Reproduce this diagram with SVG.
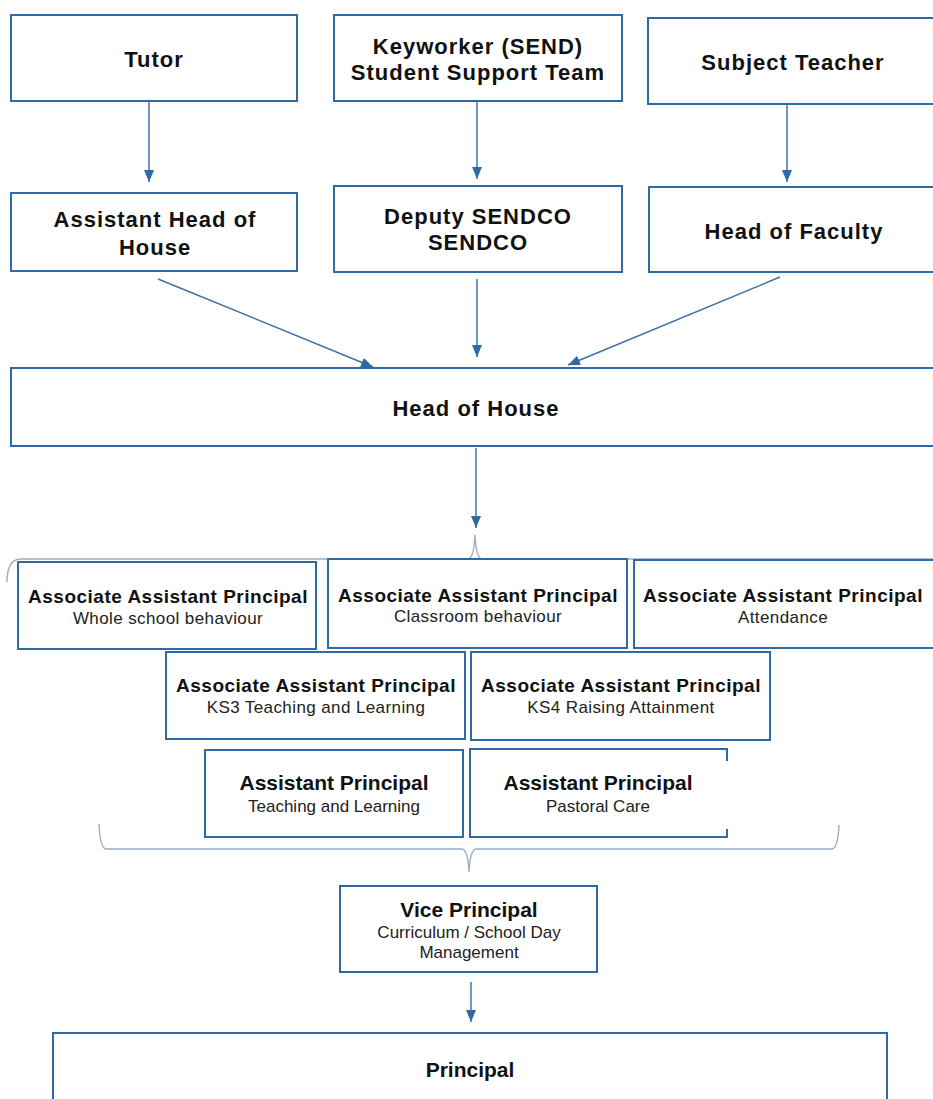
<svg xmlns="http://www.w3.org/2000/svg" width="933" height="1099" viewBox="0 0 933 1099">
<defs>
<marker id="arr" viewBox="0 0 12 10" refX="12" refY="5" markerWidth="12" markerHeight="10" markerUnits="userSpaceOnUse" orient="auto">
<path d="M0,0 L12,5 L0,10 Z" fill="#2f6aa5"/>
</marker>
<style>
.box{fill:#fff;stroke:#2f6aa5;stroke-width:2}
.t{font-family:"Liberation Sans",Arial,sans-serif;font-weight:bold;font-size:22px;letter-spacing:1px;fill:#111;text-anchor:middle}
.h{font-family:"Liberation Sans",Arial,sans-serif;font-weight:bold;font-size:19px;letter-spacing:0.5px;fill:#111;text-anchor:middle}
.s{font-family:"Liberation Sans",Arial,sans-serif;font-size:17px;letter-spacing:0.4px;fill:#222;text-anchor:middle}
.n{font-family:"Liberation Sans Narrow","Liberation Sans",Arial,sans-serif;font-size:17px;fill:#222;text-anchor:middle}
.hn{font-family:"Liberation Sans Narrow","Liberation Sans",Arial,sans-serif;font-weight:bold;font-size:21px;fill:#111;text-anchor:middle}
.c{stroke:#3a6fa8;stroke-width:1.4;fill:none}
.br{stroke:#9aaec4;stroke-width:1.4;fill:none}
</style>
</defs>
<rect width="933" height="1099" fill="#fff"/>

<g id="connectors">
<line class="c" x1="149" y1="101" x2="149" y2="182" marker-end="url(#arr)"/>
<line class="c" x1="477" y1="101" x2="477" y2="179" marker-end="url(#arr)"/>
<line class="c" x1="787" y1="104" x2="787" y2="182" marker-end="url(#arr)"/>
<line class="c" x1="158" y1="279" x2="373" y2="367" marker-end="url(#arr)"/>
<line class="c" x1="477" y1="279" x2="477" y2="357" marker-end="url(#arr)"/>
<line class="c" x1="780" y1="277" x2="568" y2="365" marker-end="url(#arr)"/>
<line class="c" x1="476" y1="448" x2="476" y2="528" marker-end="url(#arr)"/>
<path class="br" d="M7,582 Q7,560 20,559 L468,559 Q474,558 475,535 Q476,558 482,559 L933,559"/>
<path class="br" d="M99,824 Q100,848 106,849 L462,849 Q468,850 469,872 Q470,850 476,849 L832,849 Q838,848 839,825"/>
<line class="c" x1="471" y1="982" x2="471" y2="1022" marker-end="url(#arr)"/>
</g>

<g id="tutor"><rect class="box" x="11" y="15" width="286" height="86"/><text class="t" x="154" y="67">Tutor</text></g>
<g id="keyworker"><rect class="box" x="334" y="15" width="288" height="86"/><text class="t" x="478" y="54">Keyworker (SEND)</text><text class="t" x="478" y="80">Student Support Team</text></g>
<g id="subject-teacher"><rect class="box" x="648" y="18" width="290" height="86"/><text class="t" x="793" y="70">Subject Teacher</text></g>

<g id="assistant-head-of-house"><rect class="box" x="11" y="193" width="286" height="78"/><text class="t" x="155" y="227">Assistant Head of</text><text class="t" x="155" y="255">House</text></g>
<g id="deputy-sendco"><rect class="box" x="334" y="186" width="288" height="86"/><text class="t" x="478" y="224">Deputy SENDCO</text><text class="t" x="478" y="250">SENDCO</text></g>
<g id="head-of-faculty"><rect class="box" x="649" y="187" width="290" height="85"/><text class="t" x="794" y="239">Head of Faculty</text></g>

<g id="head-of-house"><rect class="box" x="11" y="368" width="930" height="78"/><text class="t" x="476" y="416">Head of House</text></g>

<g id="aap-whole-school"><rect class="box" x="18" y="562" width="298" height="87"/><text class="h" x="168" y="603">Associate Assistant Principal</text><text class="s" x="168" y="624">Whole school behaviour</text></g>
<g id="aap-classroom"><rect class="box" x="328" y="559" width="299" height="89"/><text class="h" x="478" y="602">Associate Assistant Principal</text><text class="s" x="478" y="622">Classroom behaviour</text></g>
<g id="aap-attendance"><rect class="box" x="634" y="560" width="304" height="88"/><text class="h" x="783" y="602">Associate Assistant Principal</text><text class="s" x="783" y="623">Attendance</text></g>

<g id="aap-ks3"><rect class="box" x="166" y="652" width="299" height="87"/><text class="h" x="316" y="692">Associate Assistant Principal</text><text class="s" x="316" y="713">KS3 Teaching and Learning</text></g>
<g id="aap-ks4"><rect class="box" x="471" y="652" width="299" height="88"/><text class="h" x="621" y="692">Associate Assistant Principal</text><text class="s" x="621" y="713">KS4 Raising Attainment</text></g>

<g id="ap-teaching"><rect class="box" x="205" y="750" width="258" height="87"/><text class="hn" x="334" y="790">Assistant Principal</text><text class="n" x="334" y="812">Teaching and Learning</text></g>
<g id="ap-pastoral"><rect x="470" y="749" width="257" height="88" fill="#fff"/><path class="box" d="M727,761 L727,749 L470,749 L470,837 L727,837 L727,829" fill="none"/><text class="hn" x="598" y="790">Assistant Principal</text><text class="n" x="598" y="812">Pastoral Care</text></g>

<g id="vice-principal"><rect class="box" x="340" y="886" width="257" height="86"/><text class="hn" x="469" y="917">Vice Principal</text><text class="n" x="469" y="938">Curriculum / School Day</text><text class="n" x="469" y="958">Management</text></g>

<g id="principal"><rect class="box" x="53" y="1033" width="834" height="80"/><text class="hn" x="470" y="1077">Principal</text></g>
</svg>
